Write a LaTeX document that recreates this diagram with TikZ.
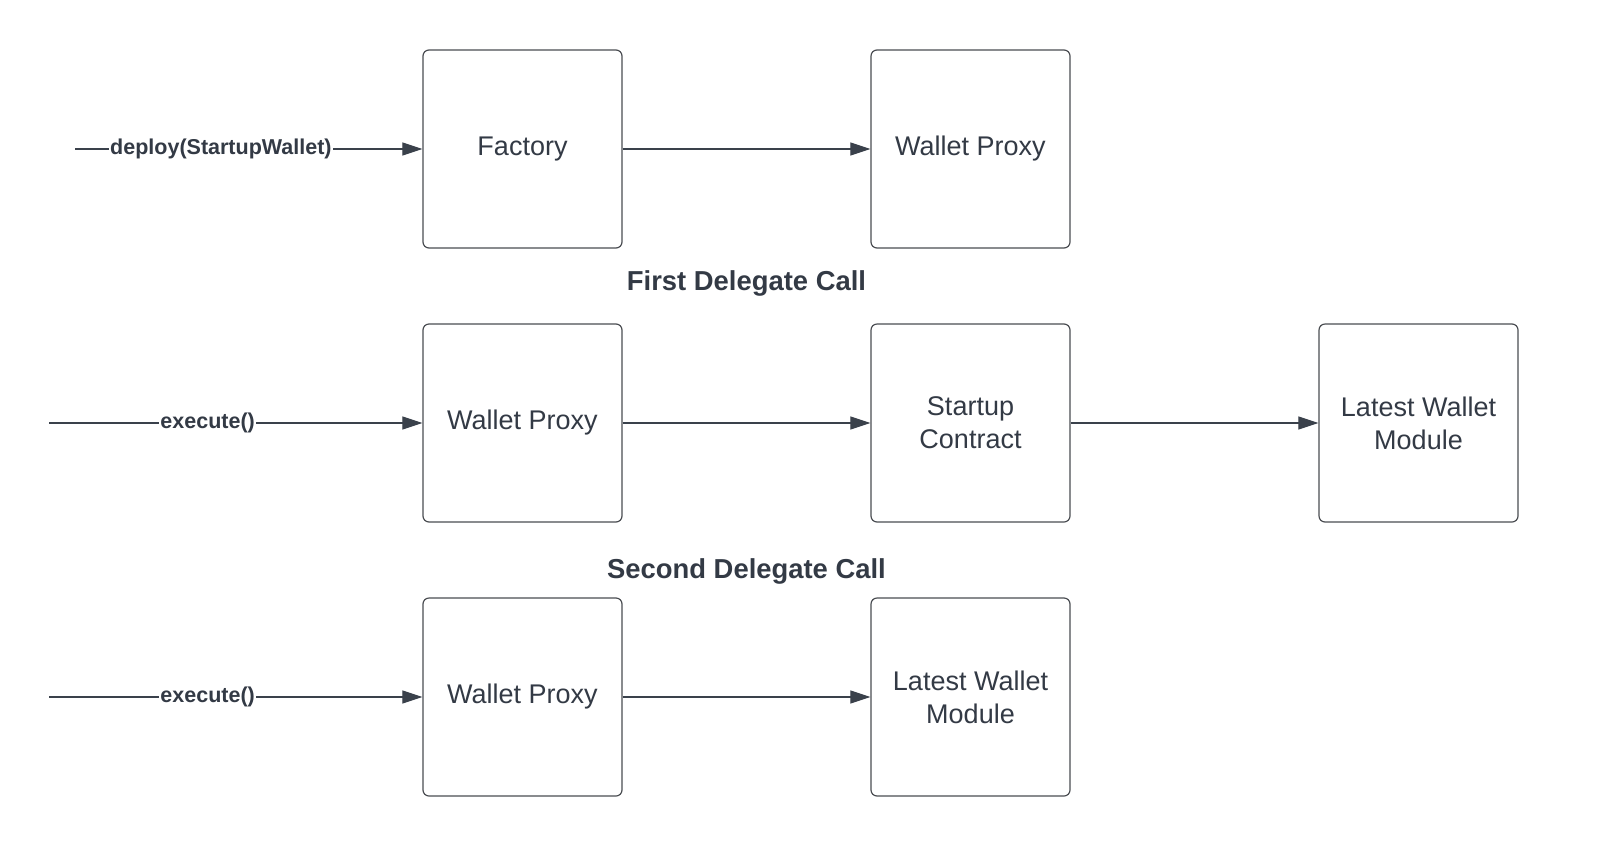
\documentclass[tikz,border=0pt]{standalone}
\usepackage{fontspec}
\setmainfont{Liberation Sans}
\usetikzlibrary{arrows.meta}
\definecolor{txt}{HTML}{333A45}
\definecolor{boxline}{HTML}{4A4D52}
\definecolor{arr}{HTML}{3A414B}
\tikzset{
  blk/.style={draw=boxline, line width=1.2pt, rounded corners=6pt, minimum width=199pt, minimum height=198pt, inner sep=0pt, text=txt, font=\fontsize{27}{33}\selectfont, align=center},
  conn/.style={draw=arr, line width=1.1pt, -{Triangle[length=20pt,width=13pt]}},
  clabel/.style={fill=white, text=txt, inner sep=1pt, font=\fontsize{21.5}{24}\selectfont\bfseries},
  ttl/.style={text=txt, font=\fontsize{27.4}{30}\selectfont\bfseries}
}
\begin{document}
\begin{tikzpicture}[x=1pt,y=-1pt]
\useasboundingbox[fill=white] (0,0) rectangle (1600,863);
% row 1
\node[blk] (fac) at (522.5,149) {Factory};
\node[blk] (wp1) at (970.5,149) {Wallet Proxy};
\coordinate (s1) at (75,149);
\draw[conn] (s1) -- node[clabel,pos=0.42] {deploy(StartupWallet)} (fac.west);
\draw[conn] (fac.east) -- (wp1.west);
% title 1
\node[ttl] (t1) at (746.5,283) {First Delegate Call};
% row 2
\node[blk] (wp2) at (522.5,423) {Wallet Proxy};
\node[blk] (sc) at (970.5,423) {Startup\\Contract};
\node[blk] (lwm1) at (1418.5,423) {Latest Wallet\\Module};
\coordinate (s2) at (49,423);
\draw[conn] (s2) -- node[clabel,pos=0.425] {execute()} (wp2.west);
\draw[conn] (wp2.east) -- (sc.west);
\draw[conn] (sc.east) -- (lwm1.west);
% title 2
\node[ttl] (t2) at (746.5,571) {Second Delegate Call};
% row 3
\node[blk] (wp3) at (522.5,697) {Wallet Proxy};
\node[blk] (lwm2) at (970.5,697) {Latest Wallet\\Module};
\coordinate (s3) at (49,697);
\draw[conn] (s3) -- node[clabel,pos=0.425] {execute()} (wp3.west);
\draw[conn] (wp3.east) -- (lwm2.west);
\end{tikzpicture}
\end{document}
